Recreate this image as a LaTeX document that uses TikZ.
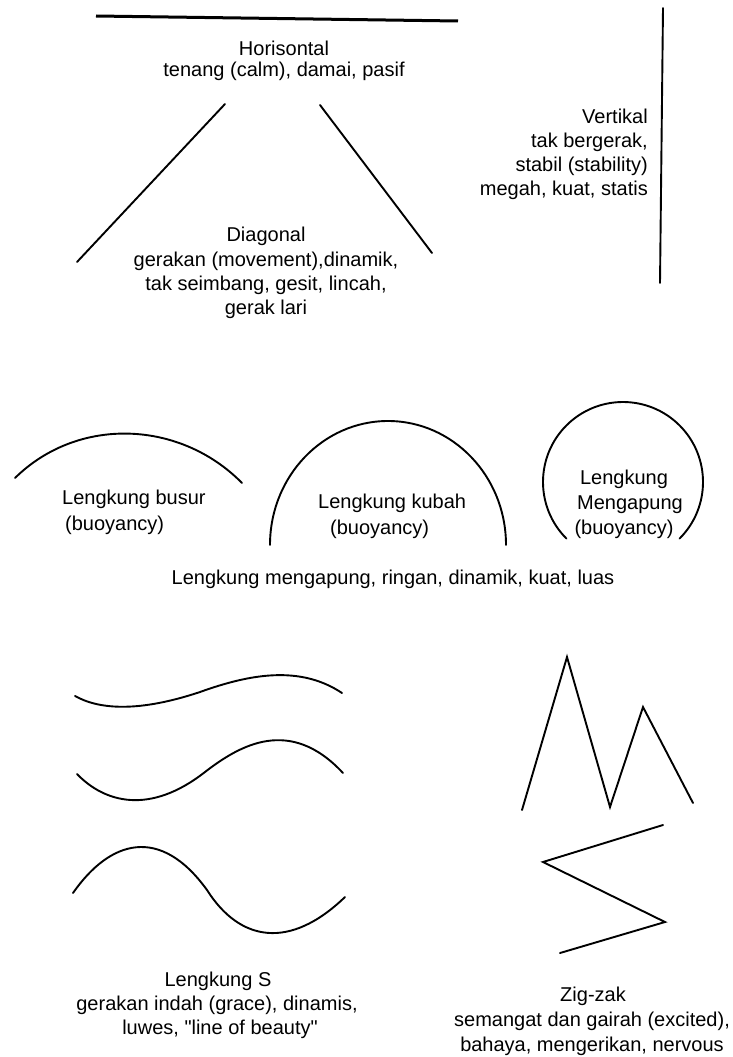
\documentclass[tikz,border=0pt]{standalone}
\usepackage{fontspec}
\setmainfont{Liberation Sans}
\begin{document}
\begin{tikzpicture}[x=1pt,y=-1pt,
  txt/.style={font=\fontsize{20}{24}\selectfont, inner sep=0pt, anchor=base},
  ln/.style={line width=1.9pt, line cap=round, line join=miter, draw=black},
  thick line/.style={line width=3pt, line cap=butt, draw=black}]
\useasboundingbox (0,0) rectangle (732,1057);

% --- Horisontal ---
\draw[thick line] (96,16) -- (458,21);
\node[txt] (hz1) at (284,56) {Horisontal};
\node[txt] (hz2) at (284,77) {tenang (calm), damai, pasif};

% --- Diagonal ---
\draw[ln] (225,104) -- (77,262);
\draw[ln] (320,105) -- (432,253);
\node[txt] (dg1) at (266,241) {Diagonal};
\node[txt] (dg2) at (266,266) {gerakan (movement),dinamik,};
\node[txt] (dg3) at (266,290) {tak seimbang, gesit, lincah,};
\node[txt] (dg4) at (266,314) {gerak lari};

% --- Vertikal ---
\draw[ln] (663,8) -- (660,283);
\node[txt, anchor=base east] (vt1) at (648,123) {Vertikal};
\node[txt, anchor=base east] (vt2) at (648,147) {tak bergerak,};
\node[txt, anchor=base east] (vt3) at (648,171) {stabil (stability)};
\node[txt, anchor=base east] (vt4) at (648,195) {megah, kuat, statis};

% --- Lengkung busur ---
\draw[ln] (15,478) .. controls (78,416) and (180,420) .. (242,483);
\node[txt, anchor=base west] (bs1) at (62,504) {Lengkung busur};
\node[txt, anchor=base west] (bs2) at (65,530) {(buoyancy)};

% --- Lengkung kubah ---
\draw[ln] (270,545) arc[start angle=180, end angle=360, x radius=118, y radius=124];
\node[txt, anchor=base west] (kb1) at (318,508) {Lengkung kubah};
\node[txt, anchor=base west] (kb2) at (330,534) {(buoyancy)};

% --- Lengkung mengapung ---
\draw[ln] (623,482) ++(135:80) arc[start angle=135, end angle=405, radius=80];
\node[txt] (mg1) at (624,484) {Lengkung};
\node[txt] (mg2) at (630,509) {Mengapung};
\node[txt] (mg3) at (624,534) {(buoyancy)};

\node[txt] (all) at (393,584) {Lengkung mengapung, ringan, dinamik, kuat, luas};

% --- Lengkung S ---
\draw[ln] (75,696) .. controls (100,710) and (140,712) .. (200,692)
                   .. controls (250,674) and (300,665) .. (342,693);
\draw[ln] (77,774) .. controls (105,803) and (150,815) .. (205,772)
                   .. controls (240,745) and (290,716) .. (343,773);
\draw[ln] (73,893) .. controls (110,840) and (160,825) .. (207,890)
                   .. controls (240,942) and (290,950) .. (345,897);
\node[txt] (ls1) at (218,986) {Lengkung S};
\node[txt] (ls2) at (217,1010) {gerakan indah (grace), dinamis,};
\node[txt] (ls3) at (220,1034) {luwes, \textquotedbl line of beauty\textquotedbl};

% --- Zig-zak ---
\draw[ln] (522,810) -- (567,657) -- (610,807) -- (643,707) -- (693,803);
\draw[ln] (663,825) -- (543,862) -- (665,922) -- (560,953);
\node[txt] (zz1) at (593,1001) {Zig-zak};
\node[txt] (zz2) at (592,1026) {semangat dan gairah (excited),};
\node[txt] (zz3) at (592,1051) {bahaya, mengerikan, nervous};
\end{tikzpicture}
\end{document}
